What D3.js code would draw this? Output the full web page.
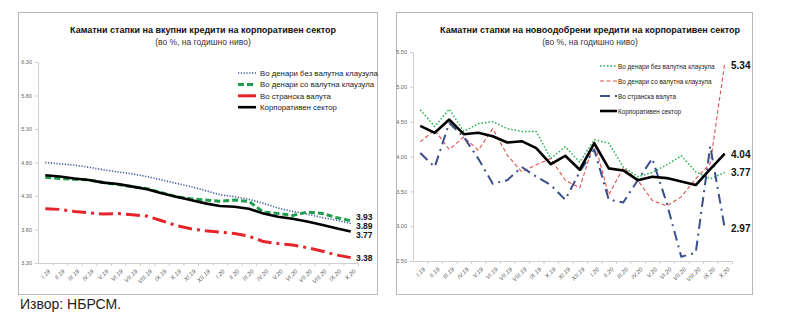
<!DOCTYPE html>
<html>
<head>
<meta charset="utf-8">
<script src="https://cdn.jsdelivr.net/npm/d3@7"></script>
<style>
  body { margin: 0; background: #fff; }
  svg { display: block; }
  text { font-family: "Liberation Sans Narrow", "Liberation Sans", Arial, sans-serif; }
</style>
</head>
<body>
<svg id="chart" width="800" height="324"></svg>
<script>
const months = ['I.19','II.19','III.19','IV.19','V.19','VI.19','VII.19','VIII.19','IX.19','X.19','XI.19','XII.19',
  'I.20','II.20','III.20','IV.20','V.20','VI.20','VII.20','VIII.20','IX.20','X.20'];

// вкупни кредити
const totalTicks = [3.30, 3.80, 4.30, 4.80, 5.30, 5.80, 6.30];
const totalDenNoClause = [4.80, 4.78, 4.76, 4.73, 4.69, 4.66, 4.63, 4.59, 4.54, 4.49, 4.44, 4.38, 4.32, 4.29, 4.25, 4.19, 4.12, 4.07, 4.03, 3.98, 3.94, 3.89];
const totalDenClause = [4.58, 4.56, 4.55, 4.54, 4.50, 4.47, 4.44, 4.41, 4.35, 4.29, 4.26, 4.24, 4.22, 4.24, 4.22, 4.06, 4.04, 4.01, 4.06, 4.04, 3.98, 3.93];
const totalForeign = [4.11, 4.10, 4.07, 4.05, 4.03, 4.04, 4.02, 4.00, 3.93, 3.86, 3.81, 3.78, 3.76, 3.74, 3.70, 3.62, 3.59, 3.57, 3.53, 3.48, 3.42, 3.38];
const totalCorp = [4.61, 4.59, 4.56, 4.54, 4.50, 4.48, 4.44, 4.40, 4.34, 4.29, 4.24, 4.19, 4.15, 4.14, 4.11, 4.04, 3.99, 3.96, 3.92, 3.87, 3.82, 3.77];

// новоодобрени кредити
const newTicks = [2.50, 3.00, 3.50, 4.00, 4.50, 5.00, 5.50];
const newDenNoClause = [4.67, 4.43, 4.68, 4.36, 4.47, 4.50, 4.40, 4.36, 4.36, 3.97, 4.14, 3.92, 4.24, 4.19, 3.85, 3.71, 3.77, 3.88, 4.01, 3.78, 3.68, 3.77];
const newDenClause = [4.21, 4.38, 4.10, 4.28, 4.09, 4.40, 4.02, 3.78, 3.88, 3.97, 3.66, 3.55, 4.21, 3.45, 3.84, 3.66, 3.37, 3.29, 3.42, 3.68, 3.90, 5.34];
const newForeign = [4.05, 3.85, 4.48, 4.28, 3.97, 3.61, 3.66, 3.85, 3.71, 3.59, 3.38, 3.78, 4.10, 3.38, 3.34, 3.66, 3.97, 3.33, 2.56, 2.62, 4.15, 2.97];
const newCorp = [4.44, 4.34, 4.53, 4.32, 4.34, 4.29, 4.20, 4.22, 4.12, 3.89, 4.01, 3.81, 4.19, 3.83, 3.80, 3.66, 3.71, 3.69, 3.64, 3.59, 3.82, 4.04];

const legendNames = ['Во денари без валутна клаузула', 'Во денари со валутна клаузула', 'Во странска валута', 'Корпоративен сектор'];

const svg = d3.select('#chart');

function drawChart(cfg) {
  const g = svg.append('g');

  g.append('rect')
    .attr('x', cfg.frame[0] + 0.5).attr('y', cfg.frame[1] + 0.5)
    .attr('width', cfg.frame[2]).attr('height', cfg.frame[3])
    .attr('fill', '#fff').attr('stroke', '#b8b8b8');

  const x = d3.scalePoint().domain(months).range([cfg.x0, cfg.x1]).padding(0.5);
  const y = d3.scaleLinear().domain(d3.extent(cfg.ticks)).range([cfg.yBottom, cfg.yTop]);

  // y axis
  const yAxis = g.append('g')
    .attr('transform', `translate(${cfg.x0},0)`)
    .call(d3.axisLeft(y).tickValues(cfg.ticks).tickFormat(d3.format('.2f')).tickSize(3).tickPadding(3));
  yAxis.select('.domain').attr('stroke', '#cfcfcf');
  yAxis.selectAll('.tick line').attr('stroke', '#cfcfcf');
  yAxis.selectAll('text').attr('font-family', '"Liberation Serif", serif').attr('font-size', 5.5).attr('fill', '#666');

  // x axis
  const step = x.step();
  const xAxis = g.append('g')
    .attr('transform', `translate(0,${cfg.yBottom})`)
    .call(d3.axisBottom(x).tickSize(0).tickPadding(4));
  xAxis.select('.domain').attr('stroke', '#cfcfcf');
  xAxis.selectAll('.tick').append('line')
    .attr('x1', step / 2).attr('x2', step / 2).attr('y1', 0).attr('y2', 3)
    .attr('stroke', '#cfcfcf');
  xAxis.selectAll('.tick text')
    .attr('font-family', '"Liberation Serif", serif')
    .attr('font-style', 'italic')
    .attr('font-size', 6)
    .attr('fill', '#555')
    .attr('text-anchor', 'end')
    .attr('dy', 0)
    .attr('transform', 'translate(2,6) rotate(-45)');

  // titles
  g.append('text')
    .attr('x', cfg.titleX).attr('y', 33)
    .attr('text-anchor', 'middle').attr('font-weight', 'bold').attr('font-size', 9).attr('fill', '#111')
    .text(cfg.title);
  g.append('text')
    .attr('x', cfg.titleX).attr('y', 45)
    .attr('text-anchor', 'middle').attr('font-size', 8.5).attr('fill', '#333')
    .text('(во %, на годишно ниво)');

  const line = d3.line().x((d, i) => x(months[i])).y(d => y(d));

  cfg.series.forEach(s => {
    g.append('path')
      .datum(s.values)
      .attr('fill', 'none')
      .attr('stroke', s.color)
      .attr('stroke-width', s.width)
      .attr('stroke-dasharray', s.dash)
      .attr('stroke-linejoin', 'round')
      .attr('d', line);
  });

  // legend
  cfg.series.forEach((s, i) => {
    const ly = cfg.legend.y + i * cfg.legend.gap;
    g.append('line')
      .attr('x1', cfg.legend.x1).attr('x2', cfg.legend.x2)
      .attr('y1', ly).attr('y2', ly)
      .attr('stroke', s.color)
      .attr('stroke-width', s.legendWidth || s.width)
      .attr('stroke-dasharray', s.legendDash !== undefined ? s.legendDash : s.dash);
    g.append('text')
      .attr('x', cfg.legend.tx).attr('y', ly + 3)
      .attr('font-size', cfg.legend.size).attr('fill', '#222')
      .text(legendNames[i]);
  });

  // end labels
  cfg.endLabels.forEach(l => {
    g.append('text')
      .attr('x', cfg.labelX).attr('y', l.y)
      .attr('font-weight', 'bold').attr('font-size', cfg.labelSize).attr('fill', '#111')
      .text(d3.format('.2f')(l.value));
  });
}

drawChart({
  frame: [18, 12, 359, 282],
  x0: 38, x1: 358, yTop: 62, yBottom: 263,
  ticks: totalTicks,
  titleX: 203,
  title: 'Каматни стапки на вкупни кредити на корпоративен сектор',
  series: [
    { values: totalDenNoClause, color: '#3f5a96', width: 1.6, dash: '1.2,1.6' },
    { values: totalDenClause, color: '#1f9e4f', width: 3, dash: '6,3' },
    { values: totalForeign, color: '#e5252a', width: 3, dash: '14,5,3,5', legendDash: null },
    { values: totalCorp, color: '#000', width: 2.6, dash: null }
  ],
  legend: { x1: 238, x2: 256, tx: 260, y: 73, gap: 11.4, size: 7.8 },
  labelX: 356,
  labelSize: 8.5,
  endLabels: [
    { value: totalDenClause[21], y: 220 },
    { value: totalDenNoClause[21], y: 229 },
    { value: totalCorp[21], y: 238 },
    { value: totalForeign[21], y: 261 }
  ]
});

drawChart({
  frame: [396, 12, 356, 282],
  x0: 413, x1: 732, yTop: 52, yBottom: 261,
  ticks: newTicks,
  titleX: 590,
  title: 'Каматни стапки на новоодобрени кредити на корпоративен сектор',
  series: [
    { values: newDenNoClause, color: '#1fb24c', width: 1.5, dash: '1.5,2' },
    { values: newDenClause, color: '#d9534f', width: 1.1, dash: '4,2.5' },
    { values: newForeign, color: '#3a4e8c', width: 2, dash: '10,5,2,5' },
    { values: newCorp, color: '#000', width: 2.6, dash: null }
  ],
  legend: { x1: 600, x2: 617, tx: 618, y: 66, gap: 15, size: 6.4 },
  labelX: 731,
  labelSize: 10,
  endLabels: [
    { value: newDenClause[21], y: 69 },
    { value: newCorp[21], y: 158 },
    { value: newDenNoClause[21], y: 176 },
    { value: newForeign[21], y: 232 }
  ]
});

svg.append('text')
  .attr('x', 20).attr('y', 309)
  .attr('font-family', '"DejaVu Sans", sans-serif')
  .attr('font-size', 14).attr('fill', '#222')
  .text('Извор: НБРСМ.');
</script>
</body>
</html>
